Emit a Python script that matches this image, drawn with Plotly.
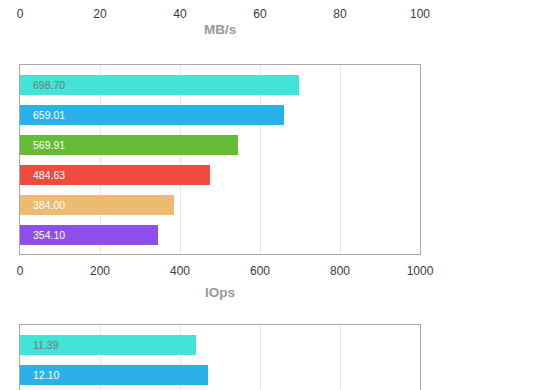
import plotly.graph_objects as go

# ---- data ----
mbs_ticks = [0, 20, 40, 60, 80, 100]

iops_labels = ["698.70", "659.01", "569.91", "484.63", "384.00", "354.10"]
iops_values = [697, 659, 546, 474, 385, 344]
iops_ticks = [0, 200, 400, 600, 800, 1000]

lat_labels = ["11.39", "12.10"]
lat_values = [10.97, 11.72]

bar_colors = ["#41e4d7", "#2bb1ea", "#64bb34", "#f14a41", "#eeba6f", "#8d4eea"]
label_colors = ["#777777", "#ffffff", "#ffffff", "#ffffff", "#ffffff", "#ffffff"]

W, H = 560, 390
X0, X1 = 20, 420
FONT = "Liberation Sans, Arial, Helvetica, sans-serif"

def py(p):
    return (H - p) / H

fig = go.Figure()

fig.add_trace(go.Scatter(x=[None], y=[None], xaxis="x", yaxis="y", showlegend=False, hoverinfo="skip"))

ypos = list(range(len(iops_values)))
fig.add_trace(go.Bar(
    x=iops_values, y=ypos, orientation="h", width=0.667,
    marker=dict(color=bar_colors, line=dict(width=0)),
    xaxis="x2", yaxis="y2", showlegend=False, hoverinfo="skip",
))

ypos3 = list(range(len(lat_values)))
fig.add_trace(go.Bar(
    x=lat_values, y=ypos3, orientation="h", width=0.667,
    marker=dict(color=bar_colors[:len(lat_values)], line=dict(width=0)),
    xaxis="x3", yaxis="y3", showlegend=False, hoverinfo="skip",
))

annotations = []
for i, (t, c) in enumerate(zip(iops_labels, label_colors)):
    annotations.append(dict(x=0, y=i, xref="x2", yref="y2", text=t, showarrow=False,
                            xanchor="left", yanchor="middle", xshift=11,
                            font=dict(family=FONT, size=10.5, color=c)))
for i, t in enumerate(lat_labels):
    annotations.append(dict(x=0, y=i, xref="x3", yref="y3", text=t, showarrow=False,
                            xanchor="left", yanchor="middle", xshift=11,
                            font=dict(family=FONT, size=10.5, color=label_colors[i])))

annotations.append(dict(x=220 / W, y=py(30), xref="paper", yref="paper", text="<b>MB/s</b>",
                        showarrow=False, xanchor="center", yanchor="middle",
                        font=dict(family=FONT, size=13.5, color="#999999")))
annotations.append(dict(x=220 / W, y=py(292), xref="paper", yref="paper", text="<b>IOps</b>",
                        showarrow=False, xanchor="center", yanchor="middle",
                        font=dict(family=FONT, size=13.5, color="#999999")))

dom_x = [X0 / W, X1 / W]
tickfont = dict(family=FONT, size=12, color="#3a3a3a")
frame = dict(showline=True, mirror=True, linecolor="#aaaaaa", linewidth=1)

fig.update_layout(
    width=W, height=H, autosize=False,
    margin=dict(l=0, r=0, t=0, b=0, pad=0, autoexpand=False),
    paper_bgcolor="white", plot_bgcolor="white",
    bargap=0,
    annotations=annotations,
    xaxis=dict(domain=dom_x, anchor="y", range=[0, 100], tickvals=mbs_ticks,
               showgrid=False, zeroline=False, showline=False, automargin=False,
               ticks="outside", ticklen=2, tickcolor="rgba(0,0,0,0)",
               tickfont=tickfont, fixedrange=True),
    yaxis=dict(domain=[0.999, 1.0], anchor="x", visible=False, range=[0, 1],
               automargin=False, fixedrange=True),
    xaxis2=dict(domain=dom_x, anchor="y2", range=[0, 1000], tickvals=iops_ticks,
                showgrid=True, gridcolor="#e6e6e6", gridwidth=1, zeroline=False,
                ticks="outside", ticklen=6, tickcolor="rgba(0,0,0,0)", automargin=False,
                tickfont=tickfont, fixedrange=True, **frame),
    yaxis2=dict(domain=[py(254), py(65)], anchor="x2", range=[5.633, -0.667],
                showticklabels=False, showgrid=False, zeroline=False, ticks="",
                automargin=False, fixedrange=True, **frame),
    xaxis3=dict(domain=dom_x, anchor="y3", range=[0, 25], dtick=5,
                showgrid=True, gridcolor="#e6e6e6", gridwidth=1, zeroline=False,
                showticklabels=False, ticks="", automargin=False, fixedrange=True, **frame),
    yaxis3=dict(domain=[0, py(325)], anchor="x3", range=[1.5, -0.667],
                showticklabels=False, showgrid=False, zeroline=False, ticks="",
                automargin=False, fixedrange=True, **frame),
)

post = ("document.body.style.margin='0';document.body.style.padding='0';"
        "document.body.style.overflow='hidden';"
        "var gd=document.getElementById('{plot_id}');"
        "Plotly.relayout(gd,{width:560,height:390});")

fig.write_html("out.html", config={"displayModeBar": False, "responsive": False},
               post_script=post)
